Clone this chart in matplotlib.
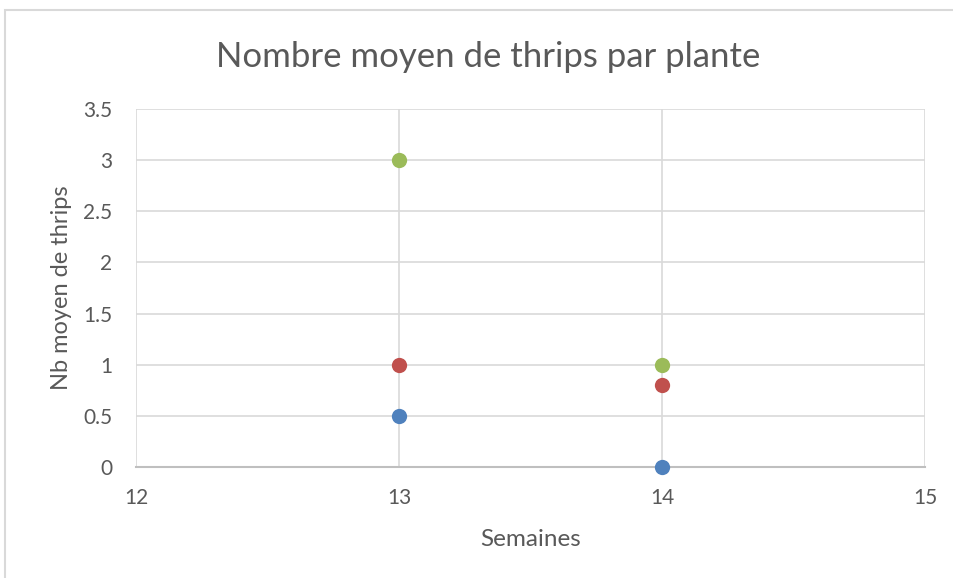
import matplotlib.pyplot as plt
from matplotlib.patches import Rectangle

# Data
weeks = [13, 14]
serie1 = [0.5, 0.0]   # blue
serie2 = [1.0, 0.8]   # red
serie3 = [3.0, 1.0]   # green
colors = ['#4F81BD', '#C0504D', '#9BBB59']
y_ticks = [0, 0.5, 1, 1.5, 2, 2.5, 3, 3.5]
y_labels = ['0', '0.5', '1', '1.5', '2', '2.5', '3', '3.5']
x_ticks = [12, 13, 14, 15]

plt.rcParams['font.family'] = ['Lato', 'DejaVu Sans']
text_color = '#595959'
W, H = 954, 578

fig = plt.figure(figsize=(W / 100, H / 100), dpi=100)
fig.patch.set_facecolor('white')

# outer chart frame (cropped at right/bottom)
fig.patches.append(Rectangle((5 / W, -0.1), 1.2, 1 - 10 / H + 0.1,
                             transform=fig.transFigure, fill=False,
                             edgecolor='#D9D9D9', linewidth=1.5))

ax = fig.add_axes([136 / W, 1 - 467 / H, (925 - 136) / W, (467 - 109) / H])

for vals, c in zip([serie1, serie2, serie3], colors):
    ax.plot(weeks, vals, linestyle='none', marker='o', markersize=11,
            color=c, markeredgewidth=0, zorder=5, clip_on=False)

ax.set_xlim(12, 15)
ax.set_ylim(0, 3.5)
ax.set_xticks(x_ticks)
ax.set_yticks(y_ticks)
ax.set_yticklabels(y_labels)

ax.grid(True, color='#D9D9D9', linewidth=1.2)
ax.set_axisbelow(True)
for s in ['top', 'right', 'left']:
    ax.spines[s].set_visible(False)
ax.spines['bottom'].set_color('#BFBFBF')
ax.spines['bottom'].set_linewidth(1.5)

ax.tick_params(length=0, labelsize=15, labelcolor=text_color)
ax.tick_params(axis='y', pad=17)
ax.tick_params(axis='x', pad=15)

# titles placed in figure pixels
fig.text(488 / W, 1 - 57 / H, 'Nombre moyen de thrips par plante',
         fontsize=25, color=text_color, ha='center', va='center')
fig.text(531 / W, 1 - 539 / H, 'Semaines',
         fontsize=17.5, color=text_color, ha='center', va='center')
fig.text(62 / W, 1 - 288 / H, 'Nb moyen de thrips', rotation=90,
         fontsize=17, color=text_color, ha='center', va='center')

fig.savefig('out.png', dpi=100)
